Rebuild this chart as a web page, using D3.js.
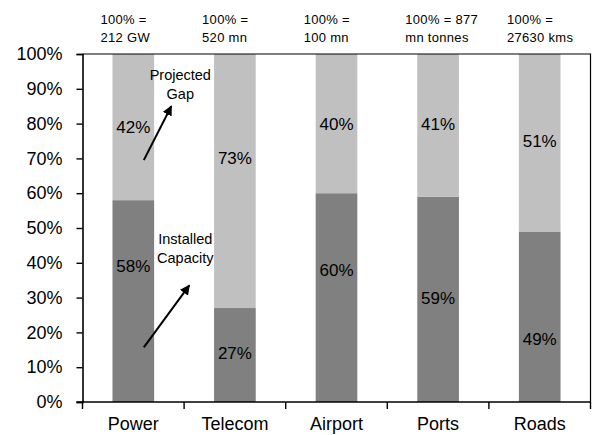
<!DOCTYPE html>
<html>
<head>
<meta charset="utf-8">
<script src="https://cdn.jsdelivr.net/npm/d3@7"></script>
<style>
  body { margin: 0; background: #fff; }
  text { font-family: "Liberation Sans", Arial, sans-serif; fill: #000; }
</style>
</head>
<body>
<div id="chart"></div>
<script>
// data
let categories = ["Power", "Telecom", "Airport", "Ports", "Roads"];
let installed = [58, 27, 60, 59, 49];
let gap = [42, 73, 40, 41, 51];
let totalLine1 = ["100% =", "100% =", "100% =", "100% = 877", "100% ="];
let totalLine2 = ["212 GW", "520 mn", "100 mn", "mn tonnes", "27630 kms"];
// where the value labels sit, in % of the bar
let installedLabelAt = [39, 14, 38, 30, 18];
let gapLabelAt = [79, 70, 80, 80, 75];
let yTicks = [0, 10, 20, 30, 40, 50, 60, 70, 80, 90, 100];

//Width and Height
let width = 592;
let height = 435;
let mLeft = 82.5, mRight = 590.5, mTop = 54, mBottom = 402;

//Colors
let colors = ["#808080", "#c0c0c0"];

let svg = d3.select("#chart").append("svg")
  .attr("width", width)
  .attr("height", height);

let x = d3.scaleBand().domain(categories).range([mLeft, mRight]).padding(0);
let y = d3.scaleLinear().domain([0, 100]).range([mBottom, mTop]);
let barW = x.bandwidth() * 0.41;

let rows = categories.map((c, i) => ({
  cat: c, inst: installed[i], gap: gap[i],
  instAt: installedLabelAt[i], gapAt: gapLabelAt[i],
  t1: totalLine1[i], t2: totalLine2[i]
}));

//Bars
let bars = svg.append("g").selectAll("g").data(rows).enter().append("g");
bars.append("rect")
  .attr("x", d => x(d.cat) + (x.bandwidth() - barW) / 2)
  .attr("y", d => y(d.inst))
  .attr("width", barW)
  .attr("height", d => y(0) - y(d.inst))
  .attr("fill", colors[0]);
bars.append("rect")
  .attr("x", d => x(d.cat) + (x.bandwidth() - barW) / 2)
  .attr("y", d => y(d.inst + d.gap))
  .attr("width", barW)
  .attr("height", d => y(d.inst) - y(d.inst + d.gap))
  .attr("fill", colors[1]);

//Value labels
bars.append("text")
  .attr("x", d => x(d.cat) + x.bandwidth() / 2)
  .attr("y", d => y(d.instAt))
  .attr("dy", "0.35em")
  .attr("text-anchor", "middle")
  .style("font-size", "17px")
  .text(d => d.inst + "%");
bars.append("text")
  .attr("x", d => x(d.cat) + x.bandwidth() / 2)
  .attr("y", d => y(d.gapAt))
  .attr("dy", "0.35em")
  .attr("text-anchor", "middle")
  .style("font-size", "17px")
  .text(d => d.gap + "%");

//Totals above bars
bars.append("text")
  .attr("x", d => x(d.cat) + 18)
  .attr("y", 19).attr("dy", "0.35em")
  .style("font-size", "13px")
  .style("letter-spacing", "0.3px")
  .text(d => d.t1);
bars.append("text")
  .attr("x", d => x(d.cat) + 18)
  .attr("y", 37).attr("dy", "0.35em")
  .style("font-size", "13px")
  .style("letter-spacing", "0.3px")
  .text(d => d.t2);

//Y axis
let yAxis = svg.append("g")
  .attr("transform", "translate(" + mLeft + ",0)")
  .call(d3.axisLeft(y).tickValues(yTicks).tickFormat(d => d + "%").tickSize(6).tickPadding(14));
yAxis.select(".domain").attr("stroke-width", 1.6);
yAxis.selectAll(".tick line").attr("stroke-width", 1.4);
yAxis.selectAll("text").style("font-size", "18px").style("font-family", "Liberation Sans, Arial, sans-serif");

//X axis with ticks between categories
let xg = svg.append("g");
xg.append("line")
  .attr("x1", mLeft - 6).attr("x2", mRight)
  .attr("y1", mBottom).attr("y2", mBottom)
  .attr("stroke", "#000").attr("stroke-width", 1.6);
xg.selectAll(".sep").data(categories.map(c => x(c)).concat([mRight])).enter()
  .append("line")
  .attr("x1", d => d).attr("x2", d => d)
  .attr("y1", mBottom).attr("y2", mBottom + 7)
  .attr("stroke", "#000").attr("stroke-width", 1.4);
xg.selectAll(".lab").data(categories).enter()
  .append("text")
  .attr("x", d => x(d) + x.bandwidth() / 2)
  .attr("y", 430)
  .attr("text-anchor", "middle")
  .style("font-size", "18px")
  .text(d => d);

//Frame top and right
svg.append("path")
  .attr("d", "M" + mLeft + "," + mTop + "H" + mRight + "V" + mBottom)
  .attr("fill", "none").attr("stroke", "#000").attr("stroke-width", 1.2);

//Annotations
svg.append("defs").append("marker")
  .attr("id", "arr").attr("viewBox", "0 0 10 10")
  .attr("refX", 9).attr("refY", 5)
  .attr("markerWidth", 5).attr("markerHeight", 5)
  .attr("orient", "auto")
  .append("path").attr("d", "M0,0L10,5L0,10z").attr("fill", "#000");

let xc = x("Power") + x.bandwidth() / 2;
let notes = [
  { lines: ["Projected", "Gap"], tx: xc + 47, ty: [y(94), y(88.5)], from: [xc + 10.5, y(69.5)], to: [xc + 38, y(85)] },
  { lines: ["Installed", "Capacity"], tx: xc + 52, ty: [y(47), y(41.5)], from: [xc + 10.5, y(15.7)], to: [xc + 56, y(33.5)] }
];
notes.forEach(n => {
  n.lines.forEach((l, i) => {
    svg.append("text")
      .attr("x", n.tx).attr("y", n.ty[i]).attr("dy", "0.35em")
      .attr("text-anchor", "middle")
      .style("font-size", "14.5px")
      .text(l);
  });
  svg.append("line")
    .attr("x1", n.from[0]).attr("y1", n.from[1])
    .attr("x2", n.to[0]).attr("y2", n.to[1])
    .attr("stroke", "#000").attr("stroke-width", 2)
    .attr("marker-end", "url(#arr)");
});
</script>
</body>
</html>
